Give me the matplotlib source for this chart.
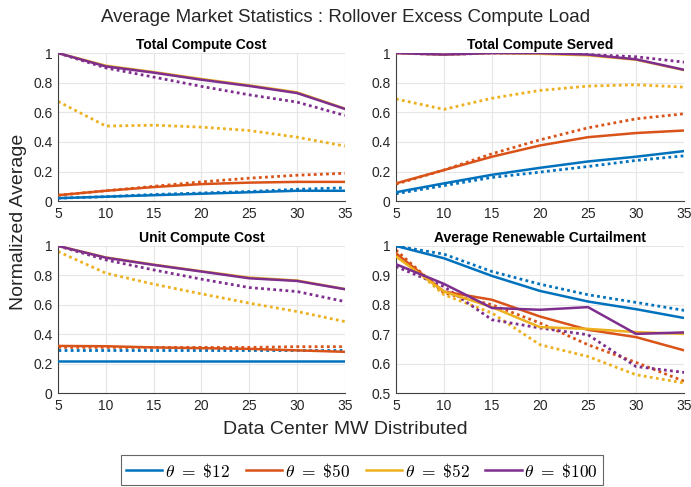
import matplotlib.pyplot as plt

plt.rcParams['font.family'] = ['Liberation Sans', 'DejaVu Sans']
plt.rcParams['mathtext.fontset'] = 'cm'

# eixo x comum
mw = [5, 10, 15, 20, 25, 30, 35]

thetas = [r'$\theta\ =\ \$12$', r'$\theta\ =\ \$50$', r'$\theta\ =\ \$52$', r'$\theta\ =\ \$100$']
cores = ['#0072BD', '#D95319', '#EDB120', '#7E2F8E']

# Total Compute Cost
cost_solid = [
    [0.02, 0.03, 0.04, 0.05, 0.06, 0.07, 0.07],
    [0.04, 0.07, 0.095, 0.115, 0.125, 0.13, 0.13],
    [1.0, 0.915, 0.872, 0.825, 0.782, 0.735, 0.625],
    [1.0, 0.91, 0.868, 0.82, 0.778, 0.73, 0.623],
]
cost_dot = [
    [0.02, 0.03, 0.045, 0.055, 0.065, 0.08, 0.09],
    [0.04, 0.07, 0.1, 0.13, 0.155, 0.175, 0.188],
    [0.673, 0.507, 0.513, 0.5, 0.477, 0.432, 0.372],
    [1.0, 0.9, 0.838, 0.775, 0.718, 0.669, 0.579],
]

# Total Compute Served
served_solid = [
    [0.06, 0.12, 0.178, 0.225, 0.268, 0.30, 0.338],
    [0.12, 0.21, 0.30, 0.376, 0.432, 0.46, 0.477],
    [1.0, 0.99, 1.0, 0.995, 0.985, 0.955, 0.885],
    [1.0, 0.99, 1.0, 1.0, 0.99, 0.958, 0.887],
]
served_dot = [
    [0.05, 0.105, 0.16, 0.196, 0.234, 0.275, 0.306],
    [0.115, 0.21, 0.32, 0.414, 0.495, 0.556, 0.59],
    [0.69, 0.62, 0.695, 0.748, 0.777, 0.786, 0.77],
    [1.0, 0.99, 1.0, 1.0, 0.99, 0.975, 0.939],
]

# Unit Compute Cost
unit_solid = [
    [0.215, 0.215, 0.215, 0.215, 0.215, 0.215, 0.215],
    [0.32, 0.318, 0.31, 0.305, 0.30, 0.29, 0.28],
    [1.0, 0.922, 0.873, 0.828, 0.785, 0.765, 0.707],
    [1.0, 0.92, 0.871, 0.826, 0.78, 0.762, 0.706],
]
unit_dot = [
    [0.29, 0.29, 0.29, 0.29, 0.29, 0.29, 0.29],
    [0.31, 0.31, 0.31, 0.31, 0.31, 0.315, 0.315],
    [0.962, 0.815, 0.74, 0.674, 0.611, 0.554, 0.486],
    [1.0, 0.905, 0.837, 0.774, 0.717, 0.69, 0.622],
]

# Average Renewable Curtailment
curt_solid = [
    [1.0, 0.958, 0.898, 0.847, 0.811, 0.785, 0.755],
    [0.975, 0.845, 0.817, 0.76, 0.715, 0.69, 0.645],
    [0.964, 0.845, 0.792, 0.724, 0.718, 0.707, 0.701],
    [0.938, 0.871, 0.789, 0.783, 0.792, 0.701, 0.706],
]
curt_dot = [
    [1.0, 0.972, 0.913, 0.87, 0.834, 0.808, 0.781],
    [0.986, 0.84, 0.80, 0.738, 0.664, 0.604, 0.54],
    [0.975, 0.834, 0.772, 0.664, 0.624, 0.562, 0.534],
    [0.93, 0.862, 0.749, 0.721, 0.698, 0.59, 0.57],
]

paineis = [
    ('Total Compute Cost', cost_solid, cost_dot, (0, 1), [0, 0.2, 0.4, 0.6, 0.8, 1]),
    ('Total Compute Served', served_solid, served_dot, (0, 1), [0, 0.2, 0.4, 0.6, 0.8, 1]),
    ('Unit Compute Cost', unit_solid, unit_dot, (0, 1), [0, 0.2, 0.4, 0.6, 0.8, 1]),
    ('Average Renewable Curtailment', curt_solid, curt_dot, (0.5, 1), [0.5, 0.6, 0.7, 0.8, 0.9, 1]),
]

posicoes = [
    [0.084, 0.587, 0.415, 0.304],
    [0.573, 0.587, 0.417, 0.304],
    [0.084, 0.193, 0.415, 0.302],
    [0.573, 0.193, 0.417, 0.302],
]

fig = plt.figure(figsize=(6.91, 4.87), dpi=100)

linhas = []
for (titulo, solid, dot, ylim, yticks), pos in zip(paineis, posicoes):
    ax = fig.add_axes(pos)
    for i in range(4):
        l, = ax.plot(mw, solid[i], color=cores[i], lw=1.8, label=thetas[i], zorder=3)
        ax.plot(mw, dot[i], color=cores[i], lw=2.0, ls=(0, (1, 1.2)), zorder=2)
        if len(linhas) < 4:
            linhas.append(l)
    ax.set_xlim(5, 35)
    ax.set_ylim(*ylim)
    ax.set_xticks(mw)
    ax.set_yticks(yticks)
    ax.set_yticklabels(['%g' % t for t in yticks])
    ax.set_title(titulo, fontsize=10, fontweight='bold', pad=3)
    ax.grid(True, color='#e6e6e6', lw=0.8)
    ax.set_axisbelow(True)
    ax.spines['top'].set_visible(False)
    ax.spines['right'].set_visible(False)
    for s in ['left', 'bottom']:
        ax.spines[s].set_color('#404040')
    ax.tick_params(labelsize=10, colors='#262626', length=0, pad=4)

fig.text(0.5, 1 - 18 / 487, 'Average Market Statistics : Rollover Excess Compute Load',
         ha='center', va='center', fontsize=13.5, color='#262626')
fig.text(0.5, 1 - 430 / 487, 'Data Center MW Distributed',
         ha='center', va='center', fontsize=14, color='#262626')
fig.text(19 / 691, 1 - 222 / 487, 'Normalized Average', rotation=90,
         ha='center', va='center', fontsize=14, color='#262626')

leg = fig.legend(handles=linhas, loc='center', bbox_to_anchor=(0.524, 1 - 470 / 487),
                 ncol=4, fontsize=12.5, frameon=True, fancybox=False, edgecolor='#404040',
                 handlelength=2.1, handletextpad=0.15, columnspacing=0.9, borderpad=0.3)
leg.get_frame().set_linewidth(0.8)

plt.savefig('out.png', dpi=100)
